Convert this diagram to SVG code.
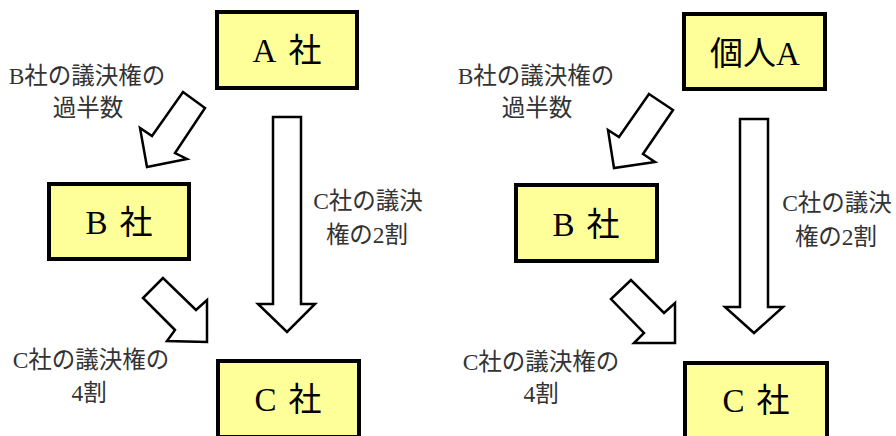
<svg xmlns="http://www.w3.org/2000/svg" width="896" height="436" viewBox="0 0 896 436">
<style>
.box{fill:#ffff99;stroke:#000;stroke-width:4}
.bt{font-family:"Liberation Serif","Noto Sans CJK JP",serif;font-size:33px;fill:#000;text-anchor:middle}
.lb{font-family:"Liberation Serif","Noto Sans CJK JP",serif;font-size:23.5px;fill:#333;text-anchor:middle}
.ar{fill:#fff;stroke:#000;stroke-width:2.5;stroke-linejoin:miter}
</style>
<rect width="896" height="436" fill="#fff"/>
<g id="connectors">
<polygon class="ar" points="183,92 205,108 175,153 187,159 147,167 140,128 152,136"/>
<polygon class="ar" points="273,117 301,117 301,304 315,304 287,332 258,304 273,304"/>
<polygon class="ar" points="163,278 143,298 175,330 167,341 207,342 207,300 196,310"/>
<polygon class="ar" points="649,94 673,110 643,154 655,162 614,168 608,130 619,137"/>
<polygon class="ar" points="740,119 768,119 768,307 783,307 754,333 725,307 740,307"/>
<polygon class="ar" points="631,280 611,299 644,333 634,343 675,343 675,303 664,313"/>
</g>
<g id="labels">
<text class="lb" x="87" y="84">B社の議決権の</text>
<text class="lb" x="88" y="116">過半数</text>
<text class="lb" x="368" y="209">C社の議決</text>
<text class="lb" x="367" y="243">権の2割</text>
<text class="lb" x="91" y="368">C社の議決権の</text>
<text class="lb" x="89" y="401">4割</text>
<text class="lb" x="536" y="84">B社の議決権の</text>
<text class="lb" x="537" y="116">過半数</text>
<text class="lb" x="837" y="211">C社の議決</text>
<text class="lb" x="836" y="245">権の2割</text>
<text class="lb" x="541" y="370">C社の議決権の</text>
<text class="lb" x="541" y="402">4割</text>
</g>
<g id="nodeA">
<rect class="box" x="217" y="12" width="140" height="76"/>
<text class="bt" x="287" y="62">A<tspan dx="12">社</tspan></text>
</g>
<g id="nodeB">
<rect class="box" x="49" y="184" width="140" height="75"/>
<text class="bt" x="119" y="234">B<tspan dx="12">社</tspan></text>
</g>
<g id="nodeC">
<rect class="box" x="218" y="361" width="141" height="76"/>
<text class="bt" x="288" y="411">C<tspan dx="12">社</tspan></text>
</g>
<g id="nodeA2">
<rect class="box" x="684" y="14" width="141" height="75"/>
<text class="bt" x="755" y="65">個人A</text>
</g>
<g id="nodeB2">
<rect class="box" x="516" y="185" width="141" height="76"/>
<text class="bt" x="586" y="236">B<tspan dx="12">社</tspan></text>
</g>
<g id="nodeC2">
<rect class="box" x="685" y="363" width="142" height="76"/>
<text class="bt" x="756" y="412">C<tspan dx="12">社</tspan></text>
</g>
</svg>
